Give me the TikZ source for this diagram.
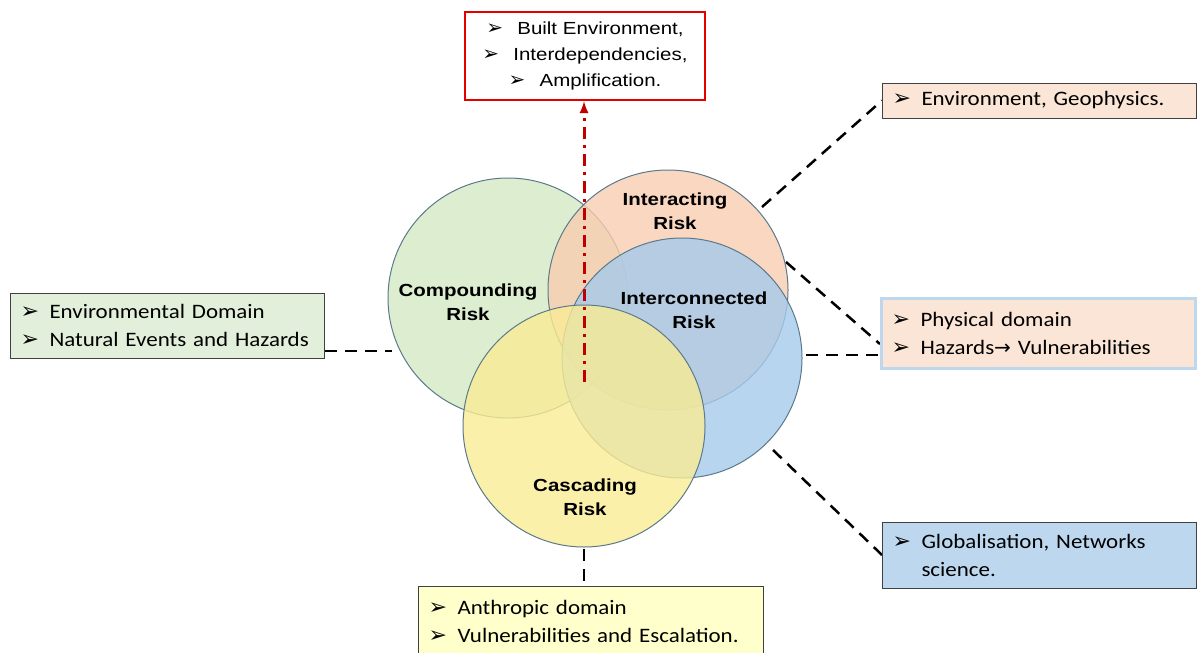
\documentclass[tikz,border=0pt]{standalone}
\usepackage{fontspec}
\setmainfont{Carlito}[FakeStretch=1.12]
\newfontfamily\arialfont{Liberation Sans}[FakeStretch=1.17]
\newfontfamily\symfont{DejaVu Sans}
\usepackage{tikz}
\usetikzlibrary{calc}
\pgfdeclarelayer{edgelayer}
\pgfdeclarelayer{nodelayer}
\pgfsetlayers{edgelayer,nodelayer,main}
\definecolor{riskgreen}{HTML}{D4E8C3}
\definecolor{riskorange}{HTML}{F8CDB0}
\definecolor{riskblue}{HTML}{A6CAEC}
\definecolor{riskyellow}{HTML}{F9EC95}
\definecolor{riskedge}{HTML}{5B7A8C}
\definecolor{boxedge}{HTML}{404040}
\definecolor{peach}{HTML}{FBE5D6}
\definecolor{paleblue}{HTML}{BDD7EE}
\definecolor{palegreen}{HTML}{E2EFDA}
\definecolor{paleyellow}{HTML}{FFFFCC}
\definecolor{darkred}{HTML}{C00000}
\newcommand{\bul}{\makebox[29pt][l]{\raisebox{0pt}[0pt][0pt]{\symfont\fontsize{22}{22}\selectfont\char"27A2}}}
\newcommand{\rbul}{\makebox[31pt][l]{\raisebox{0pt}[0pt][0pt]{\symfont\fontsize{20}{20}\selectfont\char"27A2}}}
\tikzstyle{none}=[inner sep=0pt]
\tikzstyle{risk}=[circle, draw=riskedge, line width=1pt, fill opacity=0.8, inner sep=0pt, minimum size=240pt]
\tikzstyle{risklabel}=[inner sep=0pt, align=center, font=\arialfont\bfseries\fontsize{17.5}{24}\selectfont]
\tikzstyle{textbox}=[draw=boxedge, line width=1pt, inner xsep=10pt, inner ysep=0pt, align=left, font=\fontsize{20.5}{28}\selectfont]
\tikzstyle{link}=[line width=2.5pt, dash pattern=on 12pt off 8pt]

\begin{document}
\begin{tikzpicture}[x=1pt, y=-1pt]
	\useasboundingbox (0, 0) rectangle (1199, 653);
	\begin{pgfonlayer}{edgelayer}
		\node [style=risk, fill=riskgreen] (0) at (508, 298) {};
		\node [style=risk, fill=riskorange] (1) at (668, 290) {};
		\node [style=risk, fill=riskblue] (2) at (682, 358) {};
		\node [style=risk, fill=riskyellow, minimum size=242pt] (3) at (584, 426) {};
	\end{pgfonlayer}
	\begin{pgfonlayer}{nodelayer}
		\node [style=risklabel] (4) at (468, 302) {Compounding\\Risk};
		\node [style=risklabel] (5) at (675, 211) {Interacting\\Risk};
		\node [style=risklabel] (6) at (694, 310) {Interconnected\\Risk};
		\node [style=risklabel] (7) at (585, 497) {Cascading\\Risk};
		\node [style=textbox, draw=red!90!black, line width=2.5pt, fill=white, align=center, text width=220pt, minimum height=88pt, font=\arialfont\fontsize{17.5}{26}\selectfont] (8) at (585, 56) {\rbul Built Environment,\\\rbul Interdependencies,\\\rbul Amplification.};
		\node [style=textbox, fill=peach, text width=294pt, minimum height=35pt] (9) at (1039.5, 100.5) {\bul Environment, Geophysics.};
		\node [style=textbox, fill=peach, draw=paleblue, line width=3pt, text width=294pt, minimum height=70pt] (10) at (1038.5, 333) {\bul Physical domain\\\bul Hazards{\symfont\fontsize{20}{20}\selectfont→} Vulnerabilities};
		\node [style=textbox, fill=palegreen, text width=294pt, minimum height=65pt] (11) at (167.5, 325.5) {\bul Environmental Domain\\\bul Natural Events and Hazards};
		\node [style=textbox, fill=paleblue, text width=294pt, minimum height=66pt] (12) at (1039.5, 555) {\bul Globalisation, Networks\\\hspace*{29pt}science.};
		\node [style=textbox, fill=paleyellow, text width=325pt, minimum height=70pt] (13) at (591, 621) {\bul Anthropic domain\\\bul Vulnerabilities and Escalation.};
		\coordinate (14) at (762, 207);
		\coordinate (15) at (786, 262);
		\coordinate (16) at (806, 355);
		\coordinate (17) at (773, 450);
		\coordinate (18) at (392, 351);
		\coordinate (19) at (584, 549);
		\coordinate (20) at (584, 382);
	\end{pgfonlayer}
	\begin{pgfonlayer}{edgelayer}
		\draw [style=link] (14) to (9.west);
		\draw [style=link] (15) to (10.184);
		\draw [style=link] (16) to (16 -| 10.west);
		\draw [style=link] (17) to (12.west);
		\draw [style=link] (11.east |- 18) to (18);
		\draw [style=link] (19) to (19 |- 13.north);
		\draw [->, >=latex, darkred, line width=3pt, dash pattern=on 12pt off 6pt on 3pt off 6pt] (20) to (20 |- 8.south);
	\end{pgfonlayer}
\end{tikzpicture}
\end{document}
